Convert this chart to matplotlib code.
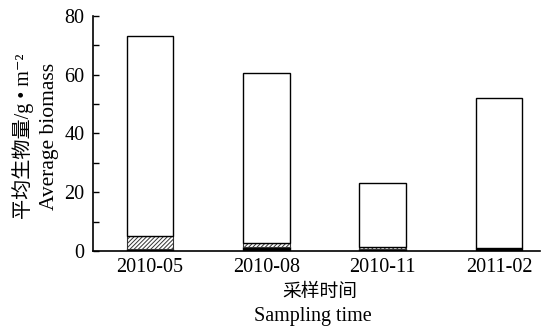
import matplotlib.pyplot as plt
import numpy as np

plt.rcParams['font.family'] = ['Liberation Serif', 'Noto Sans CJK SC', 'DejaVu Serif']
plt.rcParams['hatch.linewidth'] = 0.7

# data (g/m^2)
dates = ['2010-05', '2010-08', '2010-11', '2011-02']
black_part = [0.5, 1.2, 0.6, 0.9]
hatch_part = [4.7, 1.4, 0.9, 0.0]
total = [73.3, 60.6, 23.0, 52.2]

white_part = [t - b - h for t, b, h in zip(total, black_part, hatch_part)]
x = np.arange(len(dates))
w = 0.4

fig = plt.figure(figsize=(5.42, 3.28), dpi=100)
ax = fig.add_axes([0.1716, 0.235, 0.8244, 0.716])

ax.bar(x, black_part, w, color='black', edgecolor='black', linewidth=1)
ax.bar(x, hatch_part, w, bottom=black_part, color='white', edgecolor='#333333',
       hatch='////////', linewidth=0.8)
bottom2 = [b + h for b, h in zip(black_part, hatch_part)]
ax.bar(x, white_part, w, bottom=bottom2, color='white', edgecolor='black', linewidth=1)

ax.set_xlim(-0.49, 3.35)
ax.set_ylim(0, 80)
ax.set_yticks([0, 20, 40, 60, 80])
ax.set_yticks([10, 30, 50, 70], minor=True)
ax.set_xticks(x)
ax.set_xticklabels(dates, fontsize=14.5)
ax.tick_params(axis='y', which='both', direction='in', length=4, width=1, labelsize=14.5, pad=6)
ax.tick_params(axis='x', length=0, pad=5)
ax.spines['top'].set_visible(False)
ax.spines['right'].set_visible(False)
for s in ['left', 'bottom']:
    ax.spines[s].set_linewidth(1.2)

fig.text(0.042, 0.585, '平均生物量/g • m⁻²', rotation=90, fontsize=14.5,
         ha='center', va='center')
fig.text(0.092, 0.585, 'Average biomass', rotation=90, fontsize=15.5,
         ha='center', va='center')
fig.text(0.59, 0.108, '采样时间', fontsize=13.5, ha='center', va='center')
fig.text(0.578, 0.035, 'Sampling time', fontsize=14.5, ha='center', va='center')

fig.savefig('out.png', dpi=100)
